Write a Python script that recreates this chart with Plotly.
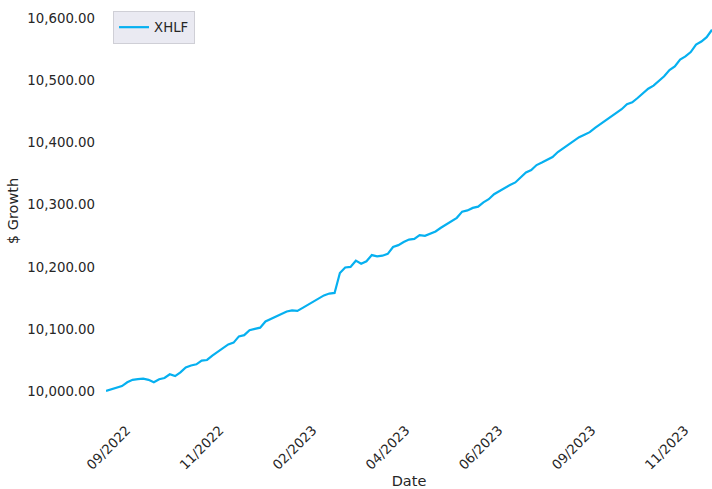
import pandas as pd
import plotly.graph_objects as go

series_name = "XHLF"
start_date = "2022-09-17"
step = "4D"
growth = [
    10000, 10003, 10005, 10008, 10014, 10018, 10019, 10020, 10018, 10014,
    10019, 10021, 10027, 10024, 10030, 10038, 10041, 10043, 10049, 10050,
    10057, 10063, 10068, 10075, 10078, 10088, 10090, 10098, 10100, 10102,
    10112, 10116, 10120, 10124, 10128, 10130, 10129, 10134, 10139, 10144,
    10150, 10154, 10157, 10158, 10190, 10199, 10200, 10210, 10205, 10209,
    10219, 10217, 10218, 10221, 10232, 10235, 10240, 10244, 10245, 10251,
    10250, 10254, 10257, 10263, 10268, 10274, 10279, 10289, 10291, 10295,
    10297, 10304, 10309, 10317, 10322, 10328, 10332, 10336, 10344, 10352,
    10356, 10364, 10368, 10372, 10377, 10385, 10391, 10396, 10403, 10409,
    10413, 10417, 10424, 10430, 10436, 10442, 10449, 10454, 10462, 10465,
    10472, 10480, 10487, 10492, 10500, 10507, 10517, 10523, 10534, 10539,
    10546, 10558, 10563, 10570, 10582,
]
dates = pd.date_range(start_date, periods=len(growth), freq=step)

tick_start = "2022-09-19"
tick_every_days = 70
y_ticks = [10000, 10100, 10200, 10300, 10400, 10500, 10600]

font_family = "DejaVu Sans"
text_color = "#262626"

fig = go.Figure()
fig.add_trace(go.Scatter(
    x=dates, y=growth, mode="lines", name=series_name,
    line=dict(color="#06B0F0", width=2.2),
))

fig.update_layout(
    width=712, height=489, autosize=False,
    margin=dict(l=106, r=0, t=13, b=80),
    paper_bgcolor="white", plot_bgcolor="white",
    font=dict(family=font_family, size=13.3, color=text_color),
    showlegend=True,
    legend=dict(
        x=0.0116, y=1.005, xanchor="left", yanchor="top",
        bgcolor="#EAEAF2", bordercolor="#CFCFD6", borderwidth=1,
        font=dict(size=13.3, color=text_color),
    ),
)

fig.update_xaxes(
    range=[dates[0], dates[-1]],
    tick0=tick_start, dtick=tick_every_days * 86400000,
    tickformat="%m/%Y", tickangle=-45,
    showgrid=False, zeroline=False, showline=False, ticks="",
    ticklabelshift=18, ticklabelstandoff=10,
    title=dict(text="Date", font=dict(size=14.5), standoff=9),
    automargin=False,
)
fig.update_yaxes(
    range=[9971, 10609],
    tickvals=y_ticks, tickformat=",.2f",
    showgrid=False, zeroline=False, showline=False, ticks="",
    ticklabelstandoff=10,
    title=dict(text="$ Growth", font=dict(size=14.5), standoff=5),
    automargin=False,
)

fig.write_html(
    "out.html",
    config={"displayModeBar": False},
    post_script="document.body.style.margin='0px';document.body.style.overflow='hidden';",
)
